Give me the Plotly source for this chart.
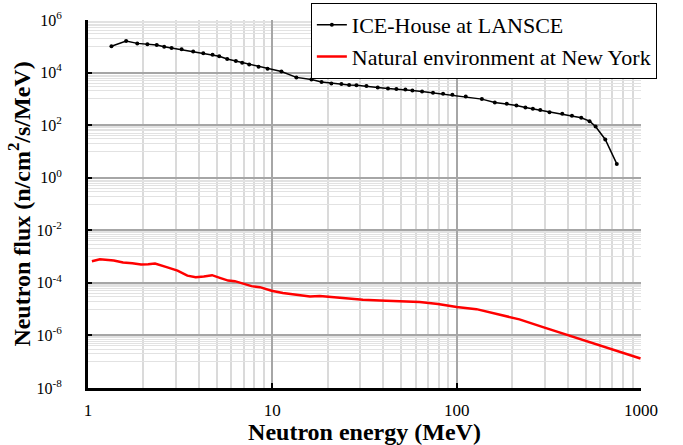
import plotly.graph_objects as go

# ICE-House neutron spectrum at LANSCE (energy in MeV, flux in n/cm^2/s/MeV)
lansce_energy = [1.34, 1.61, 1.85, 2.10, 2.36, 2.59, 2.84, 3.22, 3.72, 4.22,
                 4.74, 5.15, 5.69, 6.34, 6.86, 7.49, 8.42, 9.42, 11.2, 13.5,
                 16.3, 18.5, 20.9, 23.7, 26.1, 28.6, 32.4, 37.3, 42.4, 47.1,
                 52.7, 57.5, 64.9, 74.4, 84.4, 94.8, 112, 137, 161, 187,
                 211, 236, 259, 284, 319, 374, 422, 474, 526, 567,
                 640, 739]
lansce_flux = [1.0e5, 1.58e5, 1.29e5, 1.19e5, 1.12e5, 9.6e4, 8.6e4, 7.65e4, 6.4e4, 5.4e4,
               4.76e4, 4.14e4, 3.27e4, 2.74e4, 2.36e4, 2.05e4, 1.66e4, 1.4e4, 1.09e4, 6.56e3,
               5.5e3, 4.35e3, 3.88e3, 3.65e3, 3.34e3, 3.28e3, 3.06e3, 2.73e3, 2.46e3, 2.35e3,
               2.29e3, 2.1e3, 1.92e3, 1.7e3, 1.56e3, 1.43e3, 1.24e3, 977, 732, 648,
               562, 472, 418, 373, 312, 269, 226, 190, 142, 89,
               28.5, 3.36]

# Natural (sea-level) neutron spectrum at New York
ny_energy = [1.05, 1.16, 1.38, 1.55, 1.74, 1.94, 2.12, 2.31, 2.67, 3.06,
             3.46, 3.84, 4.25, 4.71, 5.19, 5.76, 6.26, 6.95, 7.71, 8.56,
             9.9, 11.4, 13.5, 16.0, 18.1, 21.4, 25.2, 31.0, 38.3, 49.1,
             63.0, 79.2, 100, 128, 164, 219, 294, 393, 526, 703, 994]
ny_flux = [6.6e-4, 7.85e-4, 7.08e-4, 5.93e-4, 5.53e-4, 4.98e-4, 5.15e-4, 5.43e-4, 3.96e-4, 2.92e-4,
           1.88e-4, 1.65e-4, 1.74e-4, 1.96e-4, 1.55e-4, 1.22e-4, 1.16e-4, 9.4e-5, 7.5e-5, 6.86e-5,
           5.04e-5, 4.08e-5, 3.55e-5, 3.06e-5, 3.14e-5, 2.8e-5, 2.5e-5, 2.29e-5, 2.15e-5, 2.06e-5,
           1.86e-5, 1.56e-5, 1.2e-5, 1.0e-5, 6.7e-6, 4.07e-6, 2.07e-6, 1.09e-6, 5.56e-7, 2.85e-7, 1.33e-7]

x_tickvals = [1, 10, 100, 1000]
x_ticktext = ["1", "10", "100", "1000"]
y_exponents = [6, 4, 2, 0, -2, -4, -6, -8]

FONT = "Liberation Serif, Times New Roman, serif"

y_tickvals = [10.0 ** e for e in y_exponents]
y_ticktext = [f"10<sup>{e}</sup>" for e in y_exponents]
# minor grid: 1..9 x 10^(e-1) below each labelled power
y_minor = [m * 10.0 ** (e - 1) for e in y_exponents[:-1] for m in range(1, 10)]
x_minor = [m * 10.0 ** k for k in range(3) for m in range(2, 10)]

fig = go.Figure()
fig.add_trace(go.Scatter(
    x=lansce_energy, y=lansce_flux, mode="lines+markers",
    name="ICE-House at LANSCE", legendgroup="a",
    line=dict(color="black", width=1.5),
    marker=dict(color="black", size=4),
))
fig.add_trace(go.Scatter(
    x=ny_energy, y=ny_flux, mode="lines",
    name="Natural environment at New York", legendgroup="b",
    line=dict(color="#ff0000", width=2.5),
))

fig.update_layout(
    width=683, height=445,
    margin=dict(l=88, r=42, t=20, b=57, autoexpand=False),
    paper_bgcolor="white", plot_bgcolor="white",
    font=dict(family=FONT, color="black", size=17),
    showlegend=True,
    legend=dict(
        x=0.403, y=1.046, xanchor="left", yanchor="top",
        bgcolor="white", bordercolor="black", borderwidth=1,
        font=dict(family=FONT, size=22, color="black"),
        tracegroupgap=0,
    ),
)

fig.update_xaxes(
    type="log", range=[0, 3], automargin=False,
    tickmode="array", tickvals=x_tickvals, ticktext=x_ticktext,
    showgrid=True, gridcolor="#a6a6a6", gridwidth=1.5,
    showline=True, linecolor="black", linewidth=3,
    ticks="inside", ticklen=5, tickwidth=2, tickcolor="black",
    ticklabelstandoff=5,
    tickfont=dict(family=FONT, size=17),
    minor=dict(tickmode="array", tickvals=x_minor, showgrid=True,
               gridcolor="#dadada", gridwidth=1.5, ticks=""),
    title=dict(text="<b>Neutron energy (MeV)</b>",
               font=dict(family=FONT, size=24), standoff=5),
    zeroline=False,
)
fig.update_yaxes(
    type="log", range=[-8, 6], automargin=False,
    tickmode="array", tickvals=y_tickvals, ticktext=y_ticktext,
    showgrid=True, gridcolor="#a6a6a6", gridwidth=1.5,
    showline=True, linecolor="black", linewidth=3,
    ticks="inside", ticklen=4, tickwidth=2, tickcolor="black",
    ticklabelstandoff=20,
    tickfont=dict(family=FONT, size=16),
    minor=dict(tickmode="array", tickvals=y_minor, showgrid=True,
               gridcolor="#e2e2e2", gridwidth=1, ticks=""),
    title=dict(text="<b>Neutron flux (n/cm<sup>2</sup>/s/MeV)</b>",
               font=dict(family=FONT, size=24), standoff=0),
    zeroline=False,
)

fig.write_html("out.html")
